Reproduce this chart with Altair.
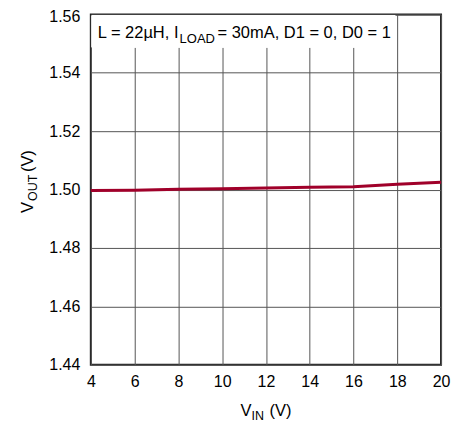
import altair as alt
import pandas as pd

vin = [4, 6, 8, 10, 12, 14, 16, 18, 20]
vout = [1.4997, 1.4998, 1.5001, 1.5003, 1.5005, 1.5008, 1.5010, 1.5018, 1.5025]

x_ticks = [4, 6, 8, 10, 12, 14, 16, 18, 20]
y_ticks = [1.44, 1.46, 1.48, 1.50, 1.52, 1.54, 1.56]

FONT = "Liberation Sans"
df = pd.DataFrame({"vin": vin, "vout": vout})

W, H = 351, 351

line = alt.Chart(df).mark_line(color="#a0002a", strokeWidth=3).encode(
    x=alt.X("vin:Q", scale=alt.Scale(domain=[4, 20], nice=False),
            axis=alt.Axis(values=x_ticks, title=None, grid=True, ticks=False, domain=False,
                          labelPadding=9, labelFlush=False)),
    y=alt.Y("vout:Q", scale=alt.Scale(domain=[1.44, 1.56], nice=False, zero=False),
            axis=alt.Axis(values=y_ticks, format=".2f", title=None, grid=True, ticks=False,
                          domain=False, labelPadding=11, labelFlush=False,
                          labelOffset={"condition": {"test": "datum.value >= 1.555", "value": 2},
                                       "value": 0})),
)

box = alt.Chart(df).mark_rect(color="white").encode(
    x=alt.value(1), x2=alt.value(305), y=alt.value(1), y2=alt.value(33)
)

def txt(s, x, y, size, angle=0):
    return alt.Chart(pd.DataFrame({"t": [s]})).mark_text(
        align="left", baseline="alphabetic", font=FONT, fontSize=size,
        color="black", angle=angle
    ).encode(text="t:N", x=alt.value(x), y=alt.value(y))

ann = (txt("L = 22µH, I", 7, 24, 16.5) + txt("LOAD", 89, 29, 13)
       + txt("= 30mA, D1 = 0, D0 = 1", 127, 24, 16.5))
xt = txt("V", 150, 402, 16.5) + txt("IN", 161, 406, 12.5) + txt("(V)", 179, 402, 16.5)
yt = (txt("V", -58, 199, 16.5, 270) + txt("OUT", -54, 187, 12.5, 270)
      + txt("(V)", -58, 158, 16.5, 270))

chart = (line + box + ann + xt + yt).properties(
    width=W, height=H,
    autosize=alt.AutoSizeParams(type="none"),
    padding={"left": 83, "top": 6, "right": 20, "bottom": 57},
).configure_view(stroke="#222", strokeWidth=2).configure_axis(
    labelFont=FONT, labelFontSize=16, labelColor="black",
    gridColor="#555", gridWidth=1, gridOpacity=1
)

chart.save("out.html", embed_options={"renderer": "svg", "actions": False})
